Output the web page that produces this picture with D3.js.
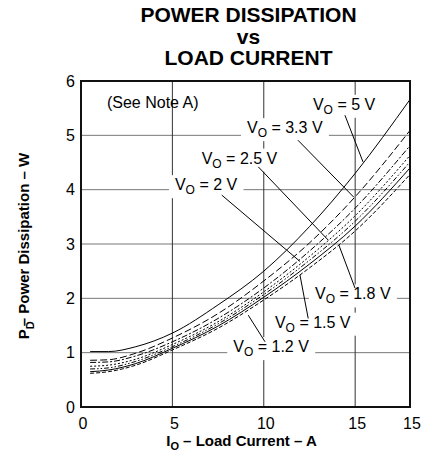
<!DOCTYPE html>
<html lang="en">
<head>
<meta charset="UTF-8">
<title>Power Dissipation vs Load Current</title>
<style>
    body { margin: 0; background: #fff; }
    svg { font-family: "Liberation Sans", Arial, Helvetica, sans-serif; }
    .grid-v { stroke: #333; stroke-width: 1; }
    .grid-h { stroke: #777; stroke-width: 1; }
    .curve { fill: none; stroke: #000; stroke-width: 1; }
    .leader { stroke: #000; stroke-width: 1; }
    .tick-label { font-size: 16px; fill: #000; }
    .note { font-size: 16px; fill: #000; }
</style>
</head>
<body>
<svg id="chart" width="435" height="462"></svg>
<script src="https://d3js.org/d3.v7.min.js"></script>
<script>
// load current, A
const loadCurrent = [0.5, 1.5, 3, 5, 7.5, 10, 12.5, 15, 18];

// power dissipation, W
const pd5v0 = [1.02, 1.02, 1.11, 1.36, 1.88, 2.50, 3.32, 4.30, 5.66];
const pd3v3 = [0.86, 0.87, 0.99, 1.27, 1.72, 2.32, 3.02, 3.87, 5.09];
const pd2v5 = [0.82, 0.83, 0.94, 1.20, 1.63, 2.19, 2.87, 3.66, 4.81];
const pd2v0 = [0.75, 0.77, 0.88, 1.15, 1.57, 2.12, 2.77, 3.52, 4.63];
const pd1v8 = [0.70, 0.72, 0.84, 1.11, 1.53, 2.07, 2.70, 3.42, 4.51];
const pd1v5 = [0.65, 0.68, 0.80, 1.08, 1.49, 2.02, 2.63, 3.33, 4.40];
const pd1v2 = [0.62, 0.65, 0.77, 1.05, 1.45, 1.97, 2.56, 3.24, 4.28];

const seriesNames = ["5 V", "3.3 V", "2.5 V", "2 V", "1.8 V", "1.5 V", "1.2 V"];
const seriesValues = [pd5v0, pd3v3, pd2v5, pd2v0, pd1v8, pd1v5, pd1v2];
const seriesDash = [null, "7,3", "6,2,2,2", "2,2", "5,2,1.5,2,1.5,2", null, "4,2"];

const xTickValues = [0, 5, 10, 15, 18];
const xTickLabels = ["0", "5", "10", "15", "15"];
const yTickValues = [0, 1, 2, 3, 4, 5, 6];

// label anchors and leader ends, in data units (A, W)
const labelAt =     [[12.69, 5.47], [9.08, 5.04], [6.60, 4.48], [5.14, 3.99], [12.80, 1.98], [10.61, 1.46], [8.33, 1.01]];
const leaderStart = [[14.44, 5.37], [11.87, 4.91], [9.70, 4.42], [7.70, 3.90], [14.99, 2.19], [12.43, 1.63], [10.07, 1.20]];
const leaderEnd =   [[15.43, 4.51], [14.93, 3.86], [13.53, 3.07], [11.98, 2.68], [14.11, 2.98], [11.98, 2.43], [9.15, 1.69]];
const noteAt = [1.42, 5.50];

const margin = { top: 81, right: 25, bottom: 55, left: 81 };
const width = 435 - margin.left - margin.right;
const height = 462 - margin.top - margin.bottom;

const root = d3.select("#chart");
const svg = root.append("g")
    .attr("transform", `translate(${margin.left},${margin.top})`);

const x = d3.scaleLinear().domain([0, 18]).range([0, width]);
const y = d3.scaleLinear().domain([0, 6]).range([height, 0]);

// title
const title = root.append("text")
    .attr("x", margin.left + width / 2)
    .attr("text-anchor", "middle")
    .style("font-weight", "bold")
    .style("font-size", "21px");
["POWER DISSIPATION", "vs", "LOAD CURRENT"].forEach((t, i) => {
    title.append("tspan").attr("x", margin.left + width / 2 + 3).attr("y", 22 + i * 21.5).text(t);
});

// grid
svg.append("g").selectAll("line")
    .data(yTickValues.slice(1, -1))
    .join("line")
    .attr("class", "grid-h")
    .attr("x1", 0).attr("x2", width)
    .attr("y1", d => y(d)).attr("y2", d => y(d));

svg.append("g").selectAll("line")
    .data(xTickValues.slice(1, -1))
    .join("line")
    .attr("class", "grid-v")
    .attr("x1", d => x(d)).attr("x2", d => x(d))
    .attr("y1", 0).attr("y2", height);

const boxLayer = svg.append("g");

// curves
const line = d3.line()
    .x((d, i) => x(loadCurrent[i]))
    .y(d => y(d))
    .curve(d3.curveMonotoneX);

svg.append("g").selectAll("path")
    .data(seriesValues)
    .join("path")
    .attr("class", "curve")
    .attr("stroke-dasharray", (d, i) => seriesDash[i])
    .attr("d", line);

// leaders
svg.append("g").selectAll("line")
    .data(seriesNames)
    .join("line")
    .attr("class", "leader")
    .attr("x1", (d, i) => x(leaderStart[i][0]))
    .attr("y1", (d, i) => y(leaderStart[i][1]))
    .attr("x2", (d, i) => x(leaderEnd[i][0]))
    .attr("y2", (d, i) => y(leaderEnd[i][1]));

// labels with white boxes that break the grid
seriesNames.forEach((name, i) => {
    const t = svg.append("text")
        .attr("class", "note")
        .attr("x", x(labelAt[i][0]))
        .attr("y", y(labelAt[i][1]));
    t.append("tspan").text("V");
    t.append("tspan").attr("dy", 4).style("font-size", "12px").text("O");
    t.append("tspan").attr("dy", -4).text(" = " + name);
    const b = t.node().getBBox();
    boxLayer.append("rect")
        .attr("x", b.x - 6).attr("y", b.y - 1)
        .attr("width", b.width + 12).attr("height", b.height + 2)
        .attr("fill", "#fff");
});

svg.append("text")
    .attr("class", "note")
    .attr("x", x(noteAt[0]))
    .attr("y", y(noteAt[1]))
    .text("(See Note A)");

// frame
svg.append("rect")
    .attr("width", width).attr("height", height)
    .attr("fill", "none")
    .attr("stroke", "#111")
    .attr("stroke-width", 2);

// tick labels
svg.append("g").selectAll("text")
    .data(yTickValues)
    .join("text")
    .attr("class", "tick-label")
    .attr("x", -6)
    .attr("y", d => y(d))
    .attr("dy", "0.36em")
    .attr("text-anchor", "end")
    .text(d => d);

svg.append("g").selectAll("text")
    .data(xTickValues)
    .join("text")
    .attr("class", "tick-label")
    .attr("x", d => x(d) + 2)
    .attr("y", height + 22)
    .attr("text-anchor", "middle")
    .text((d, i) => xTickLabels[i]);

// axis titles
const xTitle = svg.append("text")
    .attr("x", width / 2 - 4)
    .attr("y", height + 39)
    .attr("text-anchor", "middle")
    .style("font-weight", "bold")
    .style("font-size", "15px");
xTitle.append("tspan").text("I");
xTitle.append("tspan").attr("dy", 4).style("font-size", "11px").text("O");
xTitle.append("tspan").attr("dy", -4).text(" – Load Current – A");

const yTitle = root.append("text")
    .attr("transform", `translate(29,${margin.top + height / 2 + 2}) rotate(-90)`)
    .attr("text-anchor", "middle")
    .style("font-weight", "bold")
    .style("font-size", "15px");
yTitle.append("tspan").text("P");
yTitle.append("tspan").attr("dy", 5).style("font-size", "11px").text("D");
yTitle.append("tspan").attr("dy", -5).attr("dx", -5).text("– Power Dissipation – W");
</script>
</body>
</html>
